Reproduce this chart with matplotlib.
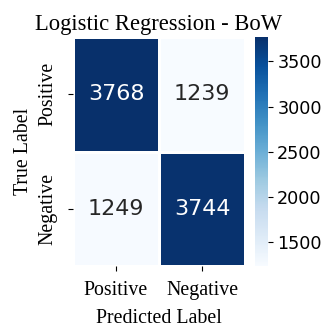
import numpy as np
import matplotlib
matplotlib.use("Agg")
import matplotlib.pyplot as plt
import seaborn as sns

labels = ["Positive", "Negative"]
counts = np.array([[3768, 1239],
                   [1249, 3744]])
title = "Logistic Regression - BoW"

W, H = 332, 329
fig = plt.figure(figsize=(W / 100, H / 100), dpi=100)

ax = fig.add_axes([73 / W, 1 - 266 / H, (245 - 73) / W, (266 - 37) / H])
cax = fig.add_axes([255 / W, 1 - 266 / H, 12.5 / W, (266 - 37) / H])

sns.heatmap(counts, annot=True, fmt="d", cmap="Blues", ax=ax, cbar_ax=cax,
            linewidths=0.8, linecolor="white",
            xticklabels=labels, yticklabels=labels,
            annot_kws={"fontsize": 16, "family": "DejaVu Sans"})

serif = "Liberation Serif"
ax.set_title(title, fontsize=16.3, family=serif, pad=5)
ax.set_xlabel("Predicted Label", fontsize=14.3, family=serif, labelpad=6)
ax.set_ylabel("True Label", fontsize=14.3, family=serif, labelpad=4)
ax.set_xticklabels(labels, fontsize=14.3, family=serif, rotation=0)
ax.set_yticklabels(labels, fontsize=14.3, family=serif, rotation=90, va="center")
ax.tick_params(axis="x", pad=7.5)
ax.tick_params(axis="y", pad=7.8)
cax.tick_params(labelsize=12.7)
for t in cax.get_yticklabels():
    t.set_family("DejaVu Sans")

fig.savefig("out.png", dpi=100)
